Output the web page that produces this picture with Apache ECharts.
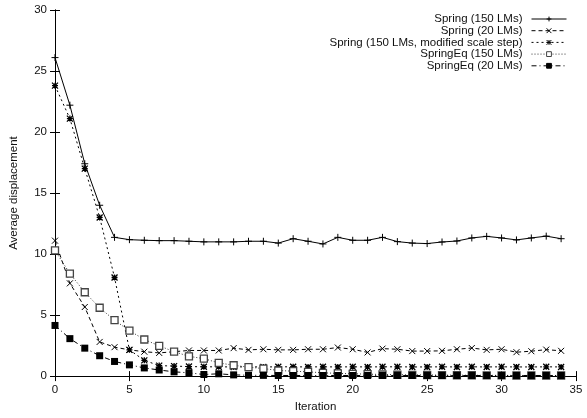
<!DOCTYPE html>
<html>
<head>
<meta charset="utf-8">
<script src="https://cdn.jsdelivr.net/npm/echarts@6/dist/echarts.min.js"></script>
<style>
  html, body { margin: 0; padding: 0; background: #fff; }
  #chart { width: 587px; height: 418px; }
</style>
</head>
<body>
<div id="chart"></div>
<script>
// iterations (x values)
const iterations = [0, 1, 2, 3, 4, 5, 6, 7, 8, 9, 10, 11, 12, 13, 14, 15, 16, 17,
  18, 19, 20, 21, 22, 23, 24, 25, 26, 27, 28, 29, 30, 31, 32, 33, 34];

const spring150 = [26.1, 22.2, 17.4, 14.0, 11.37, 11.18, 11.13, 11.1, 11.1, 11.05,
  11.0, 11.0, 11.0, 11.05, 11.05, 10.9, 11.26, 11.05, 10.83, 11.37, 11.13, 11.13,
  11.37, 11.02, 10.9, 10.86, 10.99, 11.07, 11.32, 11.45, 11.32, 11.16, 11.32, 11.47, 11.26];

const spring20 = [11.1, 7.6, 5.66, 2.8, 2.37, 2.15, 2.0, 1.9, 2.0, 2.1,
  2.1, 2.1, 2.29, 2.15, 2.2, 2.15, 2.15, 2.2, 2.2, 2.34, 2.2, 1.94,
  2.25, 2.2, 2.05, 2.05, 2.07, 2.2, 2.3, 2.15, 2.2, 1.96, 2.04, 2.17, 2.07];

const springModified = [23.8, 21.1, 17.0, 13.0, 8.08, 2.15, 1.29, 0.86, 0.82, 0.78,
  0.76, 0.76, 0.75, 0.76, 0.75, 0.76, 0.76, 0.75, 0.76, 0.75, 0.76, 0.75,
  0.76, 0.76, 0.75, 0.75, 0.76, 0.75, 0.76, 0.75, 0.76, 0.75, 0.75, 0.76, 0.75];

const springEq150 = [10.3, 8.4, 6.87, 5.6, 4.58, 3.72, 3.0, 2.48, 2.0, 1.62,
  1.43, 1.08, 0.89, 0.73, 0.62, 0.46, 0.4, 0.35, 0.27, 0.22, 0.19, 0.16,
  0.13, 0.11, 0.1, 0.09, 0.08, 0.07, 0.07, 0.06, 0.06, 0.05, 0.05, 0.05, 0.05];

const springEq20 = [4.15, 3.07, 2.29, 1.67, 1.2, 0.92, 0.67, 0.5, 0.35, 0.27,
  0.13, 0.19, 0.1, 0.07, 0.06, 0.05, 0.05, 0.05, 0.05, 0.05, 0.05, 0.05,
  0.05, 0.05, 0.05, 0.05, 0.05, 0.05, 0.05, 0.05, 0.05, 0.05, 0.05, 0.05, 0.05];

const seriesNames = [
  'Spring (150 LMs)',
  'Spring (20 LMs)',
  'Spring (150 LMs, modified scale step)',
  'SpringEq (150 LMs)',
  'SpringEq (20 LMs)'
];

const xTicks = { min: 0, max: 35, interval: 5 };
const yTicks = { min: 0, max: 30, interval: 5 };

const FONT = 'Liberation Sans, Arial, Helvetica, sans-serif';
const FS = 11.5;

const plusPath = 'path://M0,5L10,5M5,0L5,10';
const crossPath = 'path://M0,0L10,10M10,0L0,10';
const starPath = 'path://M0,0L10,10M10,0L0,10M5,0L5,10M0,5L10,5';

function pairs(values) {
  return iterations.map((it, i) => [it, values[i]]);
}

const chart = echarts.init(document.getElementById('chart'), null, { renderer: 'canvas' });

const axisCommon = {
  axisLine: { show: true, lineStyle: { color: '#000', width: 1 } },
  axisTick: { show: true, inside: true, length: 5, lineStyle: { color: '#000' } },
  splitLine: { show: false }
};

const legends = seriesNames.map((name, i) => ({
  data: [name],
  right: 20,
  top: 13 + i * 11.7,
  padding: 0,
  align: 'right',
  itemWidth: 35,
  itemHeight: 6,
  selectedMode: false,
  lineStyle: { width: 1 },
  itemStyle: { borderWidth: 1 },
  textStyle: { fontFamily: FONT, fontSize: FS, color: '#111', padding: [0, 4, 0, 0] }
}));

chart.setOption({
  animation: false,
  backgroundColor: '#fff',
  grid: { left: 54, right: 11, top: 10, bottom: 37 },
  legend: legends,
  xAxis: [
    Object.assign({
      type: 'value',
      min: xTicks.min, max: xTicks.max, interval: xTicks.interval,
      name: 'Iteration',
      nameLocation: 'middle',
      nameGap: 22,
      nameTextStyle: { fontFamily: FONT, fontSize: FS, color: '#111' },
      axisLabel: { fontFamily: FONT, fontSize: FS, color: '#111', margin: 8 }
    }, axisCommon),
    Object.assign({
      type: 'value', position: 'top',
      min: xTicks.min, max: xTicks.max, interval: xTicks.interval,
      axisLabel: { show: false }
    }, axisCommon)
  ],
  yAxis: [
    Object.assign({
      type: 'value',
      min: yTicks.min, max: yTicks.max, interval: yTicks.interval,
      name: 'Average displacement',
      nameLocation: 'middle',
      nameGap: 35,
      nameTextStyle: { fontFamily: FONT, fontSize: FS, color: '#111' },
      axisLabel: { fontFamily: FONT, fontSize: FS, color: '#111', margin: 8 }
    }, axisCommon),
    Object.assign({
      type: 'value', position: 'right',
      min: yTicks.min, max: yTicks.max, interval: yTicks.interval,
      axisLabel: { show: false }
    }, axisCommon)
  ],
  series: [
    {
      name: seriesNames[0], type: 'line', data: pairs(spring150),
      symbol: plusPath, symbolSize: 7,
      itemStyle: { color: '#000', borderColor: '#000', borderWidth: 1 },
      lineStyle: { color: '#000', width: 1, type: 'solid' }
    },
    {
      name: seriesNames[1], type: 'line', data: pairs(spring20),
      symbol: crossPath, symbolSize: 6,
      itemStyle: { color: '#000', borderColor: '#000', borderWidth: 1 },
      lineStyle: { color: '#000', width: 1, type: [4, 3] }
    },
    {
      name: seriesNames[2], type: 'line', data: pairs(springModified),
      symbol: starPath, symbolSize: 6,
      itemStyle: { color: '#000', borderColor: '#000', borderWidth: 1.3 },
      lineStyle: { color: '#000', width: 1, type: [2, 3] }
    },
    {
      name: seriesNames[3], type: 'line', data: pairs(springEq150),
      symbol: 'rect', symbolSize: 7,
      itemStyle: { color: '#fff', borderColor: '#444', borderWidth: 1.3 },
      lineStyle: { color: '#333', width: 1, type: [1, 2] }
    },
    {
      name: seriesNames[4], type: 'line', data: pairs(springEq20),
      symbol: 'rect', symbolSize: 7,
      itemStyle: { color: '#000', borderColor: '#000', borderWidth: 0 },
      lineStyle: { color: '#000', width: 1, type: [5, 3, 1, 3] }
    }
  ]
});
</script>
</body>
</html>
